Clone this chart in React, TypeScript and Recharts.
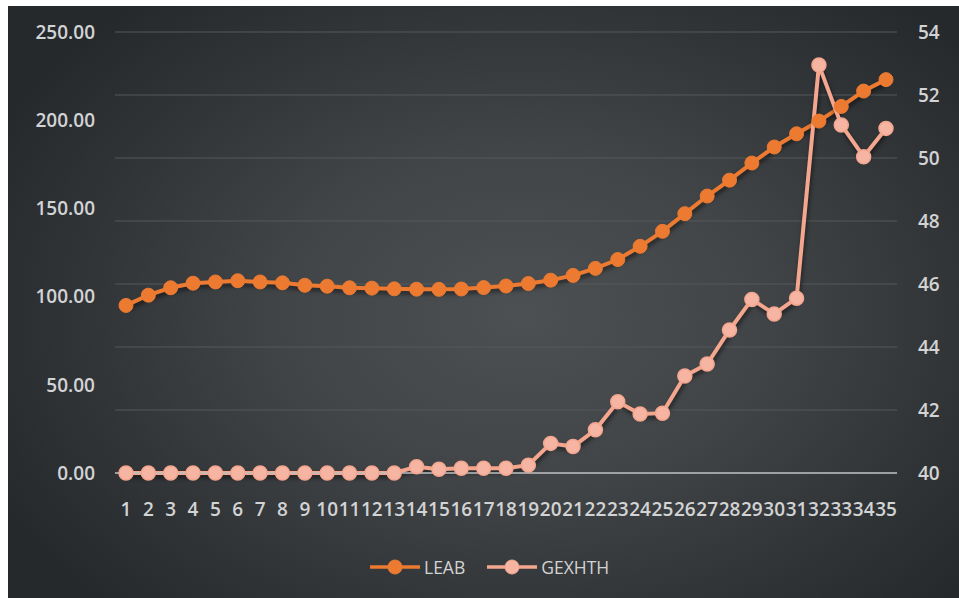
import React from "react";
import {
  LineChart,
  Line,
  XAxis,
  YAxis,
  CartesianGrid,
  Legend,
} from "recharts";

// Category labels along the bottom axis
const periods: string[] = [
  "1", "2", "3", "4", "5", "6", "7", "8", "9", "10",
  "11", "12", "13", "14", "15", "16", "17", "18", "19", "20",
  "21", "22", "23", "24", "25", "26", "27", "28", "29", "30",
  "31", "32", "33", "34", "35",
];

// LEAB, plotted on the left axis
const leab: number[] = [
  95, 100.8, 105, 107.6, 108.3, 109, 108.3, 107.8, 106.4, 105.9,
  105, 104.8, 104.4, 104.2, 104.1, 104.3, 105.1, 106, 107.4, 109.3,
  112, 116, 121, 128.5, 137, 147, 157, 166, 175.7, 184.8,
  192.3, 199.5, 207.8, 216.5, 223,
];

// GEXHTH, plotted on the right axis
const gexhth: number[] = [
  40, 40, 40, 40, 40, 40, 40, 40, 40, 40,
  40, 40, 40, 40.2, 40.12, 40.15, 40.15, 40.15, 40.25, 40.94,
  40.84, 41.37, 42.26, 41.87, 41.9, 43.08, 43.46, 44.54, 45.51, 45.05,
  45.55, 52.95, 51.05, 50.04, 50.94,
];

const leftTicks: number[] = [0, 50, 100, 150, 200, 250];
const rightTicks: number[] = [40, 42, 44, 46, 48, 50, 52, 54];

const seriesNames = { leab: "LEAB", gexhth: "GEXHTH" };

const data = periods.map((p, i) => ({
  period: p,
  leab: leab[i],
  gexhth: gexhth[i],
}));

const LEAB_COLOR = "#ec7a31";
const GEX_COLOR = "#f4a68f";
const TEXT_COLOR = "#d2d3d4";
const FONT = "'Open Sans', 'DejaVu Sans', sans-serif";

const tickStyle = {
  fill: TEXT_COLOR,
  fontSize: 19,
  fontWeight: 600,
  fontFamily: FONT,
};

function LegendContent() {
  const items = [
    { label: seriesNames.leab, color: LEAB_COLOR, dot: LEAB_COLOR },
    { label: seriesNames.gexhth, color: GEX_COLOR, dot: "#f6b5a2" },
  ];
  return (
    <div style={{ display: "flex", alignItems: "center", gap: 22 }}>
      {items.map((it) => (
        <div key={it.label} style={{ display: "flex", alignItems: "center" }}>
          <svg width={50} height={22} style={{ overflow: "visible" }}>
            <line x1={0} y1={11} x2={50} y2={11} stroke={it.color} strokeWidth={3.5} />
            <circle cx={25} cy={11} r={7} fill={it.dot} stroke={it.color} strokeWidth={1} />
          </svg>
          <span
            style={{
              marginLeft: 4,
              color: TEXT_COLOR,
              fontFamily: FONT,
              fontSize: 17.5,
              lineHeight: "22px",
            }}
          >
            {it.label}
          </span>
        </div>
      ))}
    </div>
  );
}

export default function App() {
  return (
    <div
      style={{
        position: "absolute",
        left: 8,
        top: 6,
        width: 951,
        height: 592,
        background:
          "radial-gradient(ellipse 62% 70% at 54% 52%, #4d5052 0%, #424548 40%, #313437 75%, #26292c 100%)",
      }}
    >
      <style>{`
        .series-shadow { filter: drop-shadow(1px 3px 2px rgba(0,0,0,0.55)); }
      `}</style>
      <LineChart
        width={951}
        height={592}
        data={data}
        margin={{ top: 26, right: 12, bottom: 63, left: 27 }}
      >
        <CartesianGrid
          yAxisId="right"
          vertical={false}
          stroke="#55585b"
          strokeWidth={1}
        />
        <XAxis
          dataKey="period"
          interval={0}
          height={40}
          padding={{ left: 11, right: 11 }}
          tickLine={false}
          axisLine={{ stroke: "#bdbebf", strokeWidth: 1.5 }}
          tick={tickStyle}
          tickMargin={24}
        />
        <YAxis
          yAxisId="left"
          orientation="left"
          domain={[0, 250]}
          ticks={leftTicks}
          width={80}
          tickLine={false}
          axisLine={false}
          tick={tickStyle}
          tickMargin={14}
          tickFormatter={(v: number) => v.toFixed(2)}
        />
        <YAxis
          yAxisId="right"
          orientation="right"
          domain={[40, 54]}
          ticks={rightTicks}
          width={50}
          tickLine={false}
          axisLine={false}
          tick={tickStyle}
          tickMargin={15}
        />
        <Legend
          content={<LegendContent />}
          wrapperStyle={{ left: 362, top: 550, width: "auto" }}
        />
        <Line
          yAxisId="left"
          dataKey="leab"
          name={seriesNames.leab}
          className="series-shadow"
          stroke={LEAB_COLOR}
          strokeWidth={4}
          dot={{ r: 7, fill: LEAB_COLOR, stroke: LEAB_COLOR, strokeWidth: 1 }}
          activeDot={false}
          isAnimationActive={false}
        />
        <Line
          yAxisId="right"
          dataKey="gexhth"
          name={seriesNames.gexhth}
          className="series-shadow"
          stroke={GEX_COLOR}
          strokeWidth={4}
          dot={{ r: 7, fill: "#f6b5a2", stroke: GEX_COLOR, strokeWidth: 1.5 }}
          activeDot={false}
          isAnimationActive={false}
        />
      </LineChart>
    </div>
  );
}
